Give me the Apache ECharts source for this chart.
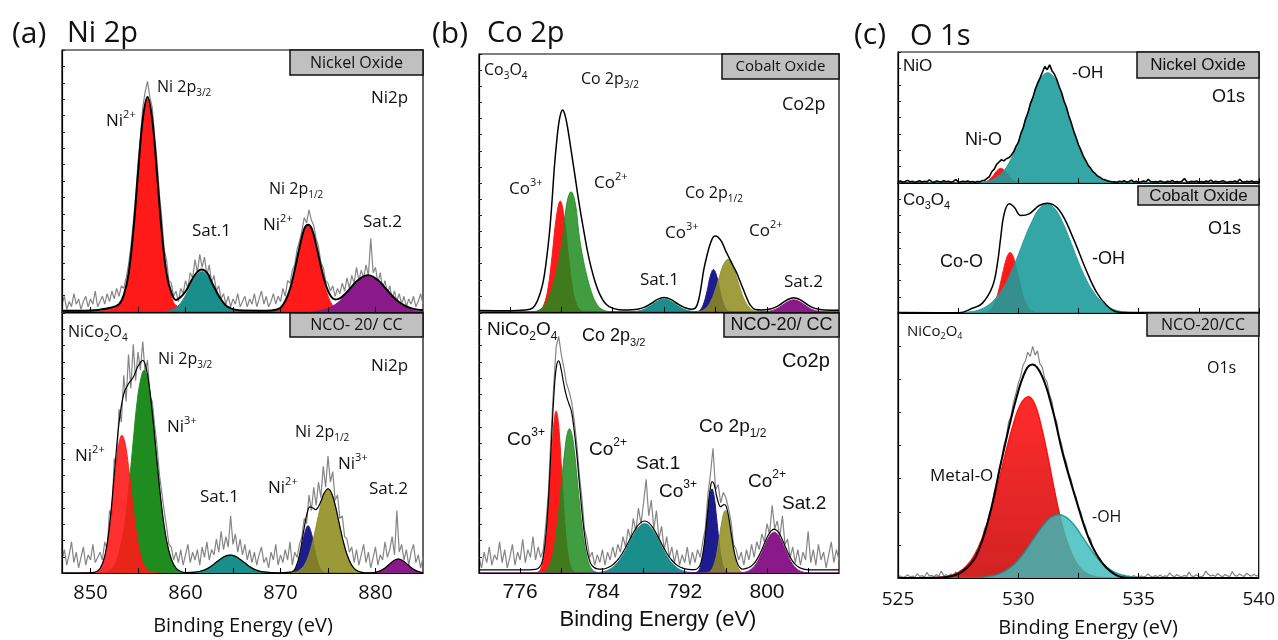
<!DOCTYPE html>
<html><head><meta charset="utf-8">
<script src="https://cdn.jsdelivr.net/npm/echarts@6/dist/echarts.min.js"></script>
<style>html,body{margin:0;padding:0;background:#fff}#c{width:1278px;height:640px}</style>
</head><body><div id="c"></div>
<script>
// ================= DATA (intensities in arbitrary units, 0-100 per panel) =================
// ---- (a) Ni 2p : Nickel Oxide ----
const niTopRawStart = 847, niTopRawStep = 0.25;
const niTopRaw = [3,6,1,4,2,7,3,5,1,4,6,2, 5,3,8,2,4,6,3,7,4,8,5,9, 6,10,9,13,18,25,34,44,57,66,78,84,
 88,82,78,67,58,45,36,24,20,12,11,6, 8,4,9,7,12,9,15,13,20,15,22,17, 21,14,18,11,14,8,10,5,7,3,6,2,
 5,3,7,2,4,6,2,5,3,7,2,5, 8,3,6,2,4,7,3,6,4,9,6,12, 11,16,18,24,27,31,36,34,39,35,33,28,
 25,19,17,12,11,8,10,6,9,7,11,8, 13,9,14,11,17,12,16,13,18,14,28,15, 17,11,15,9,12,7,10,5,8,4,7,3,
 6,2,5,3,6,2,4,7,3];
const niTopNi2a = [[849,0],[851,0.4],[852,1.0],[853,2.5],[853.5,6],[854,13.9],[854.5,30.1],[855,52.4],[855.5,73],[856,81.6],[856.5,73],[857,52.4],[857.5,30.1],[858,13.9],[858.5,6],[859,2.5],[860,1.0],[861,0.4],[863,0]];
const niTopSat1 = [[857.5,0],[858.2,0.35],[858.7,1.0],[859.2,2.2],[859.7,4.5],[860.2,7.7],[860.7,11.3],[861.2,14.3],[861.7,15.4],[862.2,14.3],[862.7,11.3],[863.2,7.7],[863.7,4.5],[864.2,2.2],[864.7,1.0],[865.2,0.35],[866,0]];
const niTopNi2b = [[868,0],[869.4,0.3],[869.9,1.1],[870.4,3.0],[870.9,7.2],[871.4,13.9],[871.9,22.4],[872.4,29.8],[872.9,32.8],[873.4,29.8],[873.9,22.4],[874.4,13.9],[874.9,7.2],[875.4,3.0],[875.9,1.1],[876.4,0.3],[878,0]];
const niTopSat2 = [[847,0],[873,0],[873.6,0.2],[874.4,0.7],[875.2,1.7],[876,3.5],[876.8,6.3],[877.6,9.6],[878.4,12.4],[879.2,13.5],[880,12.4],[880.8,9.6],[881.6,6.3],[882.4,3.5],[883.2,1.7],[884,0.7],[884.8,0.2],[885,0.15]];
const niTopEnv = [[847,0.5],[849,0.5],[851,0.9],[852,1.5],[853,3.0],[853.5,6.5],[854,14.4],[854.5,30.6],[855,52.9],[855.5,73.5],[856,82.1],[856.5,73.5],[857,52.9],[857.5,30.7],[858,14.8],[858.5,7.5],[859,4.6],[859.5,5.7],[860,7.8],[860.5,11.1],[861,14.2],[861.7,16.2],[862.3,14.8],[862.7,11.8],[863.2,8.2],[863.7,5.0],[864.2,2.7],[864.7,1.5],[865.2,0.85],[866,0.55],[868,0.5],[869,0.6],[869.5,0.85],[870,1.6],[870.5,4.2],[871,8.8],[871.5,16.1],[872,24.6],[872.5,31.7],[872.9,33.3],[873.3,31.7],[873.8,24.8],[874.3,16.7],[874.8,10.0],[875.3,6.0],[875.8,4.8],[876.3,5.3],[876.8,6.9],[877.5,9.7],[878.2,12.3],[879.2,14.0],[880.2,12.3],[880.9,9.7],[881.6,6.8],[882.4,4.0],[883.2,2.2],[884,1.2],[885,0.7]];

// ---- (a) Ni 2p : NCO-20/CC ----
const niBotRawStart = 847, niBotRawStep = 0.25;
const niBotRaw = [5,9,3,7,12,4,8,2,6,10,3,7, 5,11,4,6,8,5,12,9,24,22,44,41, 63,58,76,66,84,71,88,74,85,78,89,77,
 82,68,66,57,49,38,31,24,18,11,10,5, 8,4,9,3,7,11,4,8,5,9,3,10, 6,12,5,9,7,13,8,16,9,14,10,22,
 11,15,8,13,7,11,5,9,4,8,3,7, 10,4,6,2,8,5,11,3,7,4,9,5, 12,3,8,6,11,14,21,19,30,24,33,26,
 35,29,41,33,45,35,39,28,30,21,22,14, 13,8,10,4,9,3,7,11,4,8,2,6, 10,3,7,5,12,6,9,14,7,24,8,11,
 5,9,3,8,11,4,7,2,6];
const niBotNi2 = [[849,0],[850.7,0.6],[851.1,2.2],[851.5,6.3],[851.9,14.5],[852.3,27.4],[852.7,41.8],[853.0,49.9],[853.3,53],[853.6,50.6],[854.0,41],[854.4,28.1],[854.8,16.3],[855.2,8],[855.6,3.3],[856.0,1.2],[856.5,0.2],[857.5,0]];
const niBotNi3 = [[849,0],[851.65,0.3],[852.0,1.0],[852.4,2.3],[852.75,4.9],[853.1,9.3],[853.5,16.4],[853.85,26.4],[854.2,39],[854.55,52.8],[854.9,65.6],[855.3,74.7],[855.65,78],[856.0,74.7],[856.4,65.6],[856.75,52.8],[857.1,39],[857.45,26.4],[857.8,16.4],[858.2,9.3],[858.55,4.9],[858.9,2.3],[859.3,1.0],[859.65,0.3],[861,0]];
const niBotSat1 = [[859,0],[860.7,0.15],[861.2,0.4],[861.7,0.8],[862.2,1.5],[862.7,2.6],[863.2,4.0],[863.7,5.4],[864.2,6.5],[864.7,6.9],[865.2,6.5],[865.7,5.4],[866.2,4.0],[866.7,2.6],[867.2,1.5],[867.7,0.8],[868.2,0.4],[868.7,0.15],[870,0]];
const niBotNi2b = [[870,0],[871.15,0.24],[871.5,1.1],[871.85,3.8],[872.2,9.1],[872.55,15.3],[872.9,18.2],[873.25,15.3],[873.6,9.1],[873.95,3.8],[874.3,1.1],[874.65,0.24],[876,0]];
const niBotNi3b = [[869.5,0],[871.5,0.3],[872,1.1],[872.5,3.0],[873,7.1],[873.5,13.8],[874,22.2],[874.5,29.5],[875,32.4],[875.5,29.5],[876,22.2],[876.5,13.8],[877,7.1],[877.5,3.0],[878,1.1],[878.5,0.3],[880,0]];
const niBotSat2 = [[879.4,0],[879.9,0.2],[880.4,0.65],[880.9,1.6],[881.4,3.1],[881.9,4.6],[882.4,5.3],[882.9,4.6],[883.4,3.1],[883.9,1.6],[884.4,0.65],[884.9,0.2],[885,0.15]];
const niBotEnv = [[847,0],[849,0],[850,0.1],[850.5,0.3],[851,1.7],[851.5,6.4],[852,18],[852.5,37.8],[853,57.6],[853.5,68.9],[854,72.8],[854.5,75.3],[855,79.5],[855.5,81.8],[856,76.2],[856.5,61.7],[857,42.8],[857.5,25.2],[858,12.6],[858.5,5.4],[859,1.9],[859.5,0.6],[860,0.2],[861,0.3],[861.7,0.8],[862.2,1.5],[862.7,2.6],[863.2,4.0],[863.7,5.4],[864.2,6.5],[864.7,6.9],[865.2,6.5],[865.7,5.4],[866.2,4.0],[866.7,2.6],[867.2,1.5],[867.7,0.8],[868.2,0.4],[869,0.2],[870,0.1],[871.2,0.4],[871.6,2.1],[872,6.9],[872.4,15.3],[872.8,23],[873.1,25.4],[873.4,25],[873.7,24.4],[874,25.5],[874.3,28],[874.6,30.8],[875,32.4],[875.4,30.5],[875.8,25.4],[876.2,18.7],[876.6,12.2],[877,7.1],[877.4,3.6],[877.8,1.6],[878.2,0.65],[878.7,0.15],[879.4,0.05],[880,0.26],[880.5,0.8],[881,1.9],[881.5,3.5],[882,4.9],[882.4,5.3],[882.8,4.9],[883.3,3.5],[883.8,1.9],[884.3,0.8],[884.8,0.26],[885,0.15]];

// ---- (b) Co 2p : Cobalt Oxide ----
const coTopCo3 = [[776,0],[777.5,0.1],[777.9,0.6],[778.3,2.7],[778.7,9.0],[779.1,21.5],[779.5,36.2],[779.9,43],[780.3,36.2],[780.7,21.5],[781.1,9.0],[781.5,2.7],[781.9,0.6],[782.3,0.1],[783.5,0]];
const coTopCo2 = [[776,0],[777.35,0.2],[777.75,0.6],[778.15,1.6],[778.55,3.7],[778.95,7.5],[779.35,13],[779.75,20],[780.15,29.4],[780.55,42.4],[780.95,46.6],[781.35,42.4],[781.75,29.4],[782.15,20],[782.55,13],[782.95,7.5],[783.35,3.7],[783.75,1.6],[784.15,0.6],[784.55,0.2],[786,0]];
const coTopSat1 = [[785,0],[786.75,0.07],[787.4,0.31],[788.05,1.05],[788.7,2.5],[789.35,4.2],[790,5],[790.65,4.2],[791.3,2.5],[791.95,1.05],[792.6,0.31],[793.25,0.07],[794.5,0]];
const coTopCo3b = [[792,0],[793.24,0.2],[793.55,1.0],[793.86,3.5],[794.18,8.25],[794.49,13.9],[794.8,16.5],[795.11,13.9],[795.43,8.25],[795.74,3.5],[796.05,1.0],[796.36,0.2],[797.5,0]];
const coTopCo2b = [[792.5,0],[793.45,0.27],[793.73,0.6],[794.0,1.3],[794.28,2.4],[794.55,4.3],[794.83,6.9],[795.1,10.2],[795.38,13.8],[795.65,17.2],[795.93,19.5],[796.2,20.4],[796.48,19.5],[796.75,17.2],[797.03,13.8],[797.3,10.2],[797.58,6.9],[797.85,4.3],[798.13,2.4],[798.4,1.3],[798.68,0.6],[798.95,0.27],[800,0]];
const coTopSat2 = [[772,0],[799.0,0],[799.6,0.06],[800.2,0.29],[800.8,0.99],[801.4,2.35],[802.0,3.95],[802.6,4.7],[803.2,3.95],[803.8,2.35],[804.4,0.99],[805.0,0.29],[805.6,0.06],[806.5,0],[807,0]];
const coTopEnv = [[772,0.6],[775,0.5],[776.5,0.8],[777.2,1.5],[777.7,4.5],[778.2,11],[778.55,20],[778.85,30.6],[779.1,43],[779.33,56.3],[779.55,66],[779.75,73],[779.95,77],[780.13,78.3],[780.35,76.5],[780.6,71.8],[780.85,65.5],[781.1,58.9],[781.35,52.3],[781.58,46],[781.9,38],[782.23,30.5],[782.55,23.5],[782.88,17.6],[783.3,11.5],[783.7,7.2],[784.15,4],[784.65,2.1],[785.6,0.9],[786.5,0.8],[787.4,1.1],[788.05,1.8],[788.7,3.2],[789.35,4.9],[790,5.6],[790.65,4.9],[791.3,3.2],[791.95,1.8],[792.6,1.1],[793.0,1.4],[793.4,5.5],[793.85,16.3],[794.2,22.5],[794.5,26.6],[794.8,29.2],[795.04,29.5],[795.3,28.8],[795.6,27.2],[795.95,24],[796.27,21.4],[796.65,18.3],[797.07,15],[797.4,11.7],[797.72,8.5],[798.05,5.3],[798.37,2.7],[798.85,1.0],[799.5,0.8],[800.2,1.1],[800.8,1.8],[801.4,3.2],[802.0,4.8],[802.6,5.5],[803.2,4.8],[803.8,3.2],[804.4,1.8],[805.0,1.1],[805.6,0.8],[807,0.7]];

// ---- (b) Co 2p : NCO-20/CC ----
const coBotRawStart = 772, coBotRawStep = 0.25;
const coBotRaw = [6,2,8,4,10,3,7,5,12,4,9,2, 6,11,3,8,5,13,4,9,6,14,5,10, 6,9,19,31,53,71,87,91,84,79,73,70,
 66,59,50,38,29,17,13,6,8,3,7,4, 9,3,8,5,10,6,11,8,14,10,17,13, 21,16,25,19,27,36,22,28,17,24,13,18,
 9,14,6,10,4,9,3,7,4,10,3,8, 4,9,6,12,17,30,38,48,32,34,27,31, 29,25,20,11,9,5,8,3,9,5,11,6,
 12,9,15,12,19,15,26,17,20,14,22,11, 13,6,10,4,9,3,8,5,16,4,9,3, 11,5,8,2,7,12,4,9,5];
const coBotCo3 = [[776,0],[777.55,0.13],[777.88,0.8],[778.04,1.9],[778.2,3.9],[778.36,7.5],[778.53,13.1],[778.69,21.1],[778.85,31.2],[779.01,42.2],[779.18,52.4],[779.34,59.7],[779.5,62.3],[779.66,59.7],[779.83,52.4],[779.99,42.2],[780.15,31.2],[780.31,21.1],[780.48,13.1],[780.64,7.5],[780.8,3.9],[780.96,1.9],[781.13,0.8],[781.45,0.13],[783,0]];
const coBotCo2 = [[776,0],[777.95,0.11],[778.43,0.73],[778.66,1.66],[778.9,3.5],[779.14,6.7],[779.38,11.7],[779.61,18.8],[779.85,27.75],[780.09,37.6],[780.33,46.7],[780.56,53.2],[780.8,55.5],[781.04,53.2],[781.28,46.7],[781.51,37.6],[781.75,27.75],[781.99,18.8],[782.23,11.7],[782.46,6.7],[782.7,3.5],[782.94,1.66],[783.18,0.73],[783.65,0.11],[785,0]];
const coBotSat1 = [[783,0],[783.73,0.25],[784.16,0.57],[784.6,1.2],[785.04,2.3],[785.48,4.0],[785.91,6.4],[786.35,9.5],[786.79,12.9],[787.23,16],[787.66,18.2],[788.1,19],[788.54,18.2],[788.98,16],[789.41,12.9],[789.85,9.5],[790.29,6.4],[790.73,4.0],[791.16,2.3],[791.6,1.2],[792.04,0.57],[792.48,0.25],[793.5,0]];
const coBotCo3b = [[792,0],[792.93,0.06],[793.21,0.42],[793.36,0.97],[793.5,2.0],[793.64,3.9],[793.79,6.8],[793.93,11],[794.08,16.2],[794.22,21.9],[794.36,27.2],[794.51,31],[794.65,32.4],[794.79,31],[794.94,27.2],[795.08,21.9],[795.23,16.2],[795.37,11],[795.51,6.8],[795.66,3.9],[795.8,2.0],[795.94,0.97],[796.09,0.42],[796.38,0.06],[797.5,0]];
const coBotCo2b = [[793.5,0],[794.0,0.05],[794.33,0.31],[794.49,0.72],[794.65,1.5],[794.81,2.9],[794.98,5.0],[795.14,8.1],[795.3,12],[795.46,16.2],[795.63,20.2],[795.79,23],[795.95,24],[796.11,23],[796.28,20.2],[796.44,16.2],[796.6,12],[796.76,8.1],[796.93,5.0],[797.09,2.9],[797.25,1.5],[797.41,0.72],[797.58,0.31],[797.9,0.05],[799,0]];
const coBotSat2 = [[772,0],[797.1,0.03],[797.7,0.2],[798.0,0.47],[798.3,0.98],[798.6,1.9],[798.9,3.3],[799.2,5.3],[799.5,7.85],[799.8,10.6],[800.1,13.2],[800.4,15],[800.7,15.7],[801.0,15],[801.3,13.2],[801.6,10.6],[801.9,7.85],[802.2,5.3],[802.5,3.3],[802.8,1.9],[803.1,0.98],[803.4,0.47],[803.7,0.2],[804.3,0.03],[805,0],[807,0]];
const coBotEnv = [[772,1.2],[776,1.2],[777.5,1.4],[778,2.9],[778.25,6.4],[778.5,14.3],[778.75,28.1],[779.0,47.2],[779.25,66.3],[779.5,78.7],[779.75,81.6],[780.0,78],[780.25,72.5],[780.5,68],[780.75,65],[781.0,62],[781.25,55],[781.5,46],[781.75,35],[782.0,24],[782.25,15],[782.5,8.5],[782.75,4.8],[783.0,2.8],[783.5,1.6],[784,1.5],[784.6,2.2],[785.04,3.3],[785.48,5],[785.91,7.4],[786.35,10.5],[786.79,13.9],[787.23,17],[787.66,19.2],[788.1,20],[788.54,19.2],[788.98,17],[789.41,13.9],[789.85,10.5],[790.29,7.4],[790.73,5],[791.16,3.3],[791.6,2.2],[792.04,1.6],[792.6,1.3],[793.0,1.3],[793.36,2.2],[793.5,3.2],[793.64,5.1],[793.79,8.0],[793.93,12.2],[794.08,17.4],[794.22,23.1],[794.36,28.8],[794.51,33],[794.65,35.1],[794.79,34.8],[794.94,32.9],[795.08,30],[795.23,27.6],[795.37,26],[795.51,25.5],[795.66,26],[795.8,26.3],[795.95,26.2],[796.11,24.6],[796.28,21.5],[796.44,17.4],[796.6,13.2],[796.76,9.3],[796.93,6.2],[797.09,4.1],[797.25,2.7],[797.41,1.9],[797.6,1.5],[798,1.8],[798.3,2.2],[798.6,3.1],[798.9,4.5],[799.2,6.5],[799.5,9],[799.8,11.8],[800.1,14.4],[800.4,16.2],[800.7,16.9],[801.0,16.2],[801.3,14.4],[801.6,11.8],[801.9,9],[802.2,6.5],[802.5,4.5],[802.8,3.1],[803.1,2.2],[803.4,1.7],[803.7,1.4],[804.3,1.2],[807,1.2]];

// ---- (c) O 1s : Nickel Oxide ----
const oTopRawStart = 525, oTopRawStep = 0.1;
const oTopRaw = [0.8,1.5,0.6,1.2,2.0,0.9,1.4,0.5,1.1,1.8,0.7,1.3,0.9,2.4,1.0,0.6,1.5,1.1,0.8,1.7,0.9,1.3,0.5,1.2,2.6,1.0,0.7,1.4,0.9,1.6,0.8,1.2,0.6,
 1.2,0.9,1.8,2.1,3.5,4.9,8.8,10.6,14.2,16.0,17.8,16.9,18.5,19.2,21.0,23.6,27.9,31.0,37.5,42.0,
 48.9,53.5,60.6,65.0,71.4,76.2,80.1,84.5,88.9,86.5,90.2,85.6,83.0,78.8,73.5,68.9,62.4,57.8,51.2,45.9,
 39.6,34.8,29.2,25.1,20.4,17.3,13.6,11.4,8.6,7.1,5.2,4.3,2.9,2.5,1.6,1.3,0.8,
 1.0,0.6,1.4,0.9,1.7,0.7,1.2,2.1,0.8,1.3,0.6,1.0,1.5,0.9,2.8,1.1,0.7,1.2,0.8,1.6,1.0,0.6,1.3,0.9,1.9,0.7,1.2,0.8,1.4,3.4,
 1.0,0.7,1.3,0.9,1.6,0.8,1.1,0.6,1.5,1.0,2.2,0.8,1.3,0.7,1.1,1.7,0.9,0.6,1.2,1.0,1.5,0.8,2.9,1.1,0.7,1.3,0.9,1.6,0.8,1.2,1.0];
const oTopNiO = [[527,0],[528.46,0.15],[528.62,0.7],[528.78,2.35],[528.95,5.6],[529.11,9.4],[529.27,11.2],[529.43,9.4],[529.6,5.6],[529.76,2.35],[529.92,0.7],[530.08,0.15],[531,0]];
const oTopOH = [[526,0],[528.15,0.17],[528.66,1.1],[528.91,2.5],[529.17,5.3],[529.43,10.1],[529.68,17.7],[529.94,28.5],[530.2,42.1],[530.45,57],[530.71,70.8],[530.96,80.7],[531.22,84.2],[531.48,80.7],[531.73,70.8],[531.99,57],[532.24,42.1],[532.5,28.5],[532.76,17.7],[533.01,10.1],[533.27,5.3],[533.53,2.5],[533.78,1.1],[534.3,0.17],[536,0]];

// ---- (c) O 1s : Cobalt Oxide ----
const oMidCoO = [[527,0],[528.46,0.1],[528.66,0.6],[528.76,1.4],[528.86,2.9],[528.96,5.6],[529.06,9.8],[529.16,15.8],[529.26,23.25],[529.36,31.5],[529.46,39.1],[529.56,44.5],[529.66,46.5],[529.76,44.5],[529.86,39.1],[529.96,31.5],[530.06,23.25],[530.16,15.8],[530.26,9.8],[530.36,5.6],[530.46,2.9],[530.56,1.4],[530.66,0.6],[530.86,0.1],[532,0]];
const oMidOH = [[526,0],[527.44,0.17],[528.07,1.1],[528.38,2.5],[528.69,5.25],[529.0,10.1],[529.32,17.6],[529.63,28.5],[529.94,42],[530.25,56.9],[530.57,70.6],[530.88,80.5],[531.19,84],[531.5,80.5],[531.82,70.6],[532.13,56.9],[532.44,42],[532.75,28.5],[533.07,17.6],[533.38,10.1],[533.69,5.25],[534.0,2.5],[534.32,1.1],[534.94,0.17],[536,0]];
const oMidEnv = [[525,0.3],[527.53,0.2],[528.09,3.6],[528.5,7.4],[528.92,20.2],[529.13,38],[529.27,58.4],[529.41,76.3],[529.62,84],[529.83,81.4],[530.1,75],[530.45,76.3],[530.87,82.7],[531.22,84.5],[531.71,78.9],[532.26,58.4],[532.82,32.9],[533.24,16.3],[533.66,6.1],[534.07,1.0],[534.6,0.3],[540,0.3]];

// ---- (c) O 1s : NCO-20/CC ----
const oBotRawStart = 525, oBotRawStep = 0.1;
const oBotRaw = [0.3,0.8,0.2,0.5,1.2,0.4,0.7,0.3,1.6,0.6,0.9,0.4,2.1,0.8,1.0,0.5,1.3,0.7,2.6,0.9,1.2,
 0.8,1.5,1.0,2.3,1.7,2.9,2.4,3.8,4.2,5.9, 6.1,8.4,9.1,12.9,14.6,18.7,20.2,24.4,27.1,32.3,
 35.8,41.2,44.6,49.8,53.1,58.9,61.0,66.2,69.5,73.4, 76.1,80.3,82.0,85.2,83.6,87.4,84.1,85.7,80.8,79.6,
 75.4,73.9,69.2,66.8,61.5,58.9,53.6,50.7,46.3,43.8, 39.5,37.1,33.0,30.6,26.7,24.9,21.2,19.4,15.8,14.9,
 11.6,10.2,8.1,7.4,5.3,5.0,3.4,3.1,2.0,1.8, 1.1,0.9,0.6,1.0,0.4,
 0.7,0.3,0.9,0.5,0.2,0.8,0.4,0.6,1.5,0.7,0.3,0.9,0.5,1.1,0.4,0.8,0.6,1.9,0.9,0.5,1.3,0.7,0.4,1.0,0.6,2.2,0.8,0.5,1.2,0.7,
 0.4,0.9,2.6,1.4,0.8,1.1,0.6,1.7,0.9,0.5,1.3,0.8,0.6,2.4,1.0,0.7,1.5,0.9,0.6,1.8,1.1,0.7,1.4,0.8,1.0];
const oBotMO = [[526,0],[526.53,0.14],[527.18,0.9],[527.5,2.05],[527.83,4.3],[528.15,8.2],[528.48,14.4],[528.8,23.2],[529.13,34.2],[529.45,46.3],[529.78,57.5],[530.1,65.5],[530.43,68.4],[530.69,65.5],[530.95,57.5],[531.22,46.3],[531.48,34.2],[531.74,23.2],[532.0,14.4],[532.27,8.2],[532.53,4.3],[532.79,2.05],[533.05,0.9],[533.58,0.14],[535,0]];
const oBotOH = [[525,0],[527.93,0.05],[528.56,0.31],[528.87,0.72],[529.18,1.5],[529.49,2.9],[529.81,5.0],[530.12,8.1],[530.43,12],[530.74,16.2],[531.06,20.2],[531.37,23],[531.68,24],[531.99,23],[532.31,20.2],[532.62,16.2],[532.93,12],[533.24,8.1],[533.56,5.0],[533.87,2.9],[534.18,1.5],[534.49,0.72],[534.81,0.31],[535.43,0.05],[540,0]];
const oBotEnv = [[525,0],[526.5,0.1],[527.11,0.5],[527.67,2.4],[528.23,8],[528.79,23.1],[529.34,45.8],[529.9,67.2],[530.32,78.5],[530.6,80.6],[531.0,76],[531.43,63.4],[531.85,47],[532.41,29.4],[532.96,14.3],[533.51,5.5],[534.07,1.1],[534.63,0],[540,0]];

// ---- axis ticks / labels ----
const niRange = [847, 885], coRange = [772, 807], oRange = [525, 540];
const niTicks = [850,855,860,865,870,875,880], niLabels = [850,860,870,880];
const coTopTicks = [775,780,785,790,795,800,805];
const coTicks = [776,780,784,788,792,796,800,804], coLabels = [776,784,792,800];
const oTicks = [525,527.5,530,532.5,535,537.5,540], oLabels = [525,530,535,540];

// ================= CHART =================
const OS = "'Open Sans', sans-serif";
const AR = "'Liberation Sans', Arial, sans-serif";
const RED = '#ff1a1a', GREEN = '#1e8c1e', TEAL = '#1a8e8a', PURPLE = '#8a1a8a', BLUE = '#1c1c8e', OLIVE = '#8e8c1c';
const OTEAL = '#1f9c9c';

const grids = [
  {left:62, top:50, width:361, height:262},
  {left:62, top:313, width:361, height:260},
  {left:479, top:54, width:360, height:258},
  {left:479, top:313, width:360, height:260},
  {left:898, top:52, width:361, height:131},
  {left:898, top:183, width:361, height:130},
  {left:898, top:313, width:361, height:265}
].map(g => Object.assign(g, {show:true, borderColor:'#000', borderWidth:1.2, backgroundColor:'rgba(0,0,0,0)'}));

function xAx(gi, range, ticks, labels, fam, fs, margin) {
  return {type:'value', gridIndex:gi, min:range[0], max:range[1], z:50,
    axisLine:{show:true, lineStyle:{color:'#000', width:1.2}},
    axisTick:{show:true, inside:true, length:5, lineStyle:{color:'#000', width:1}, customValues:ticks},
    axisLabel:{show:!!labels, customValues:labels || [], fontFamily:fam, fontSize:fs, color:'#111', margin:margin},
    splitLine:{show:false}};
}
function yAx(gi, interval) {
  return {type:'value', gridIndex:gi, min:0, max:100, interval:interval, z:50,
    axisLine:{show:true, lineStyle:{color:'#000', width:1.2}},
    axisTick:{show:true, inside:true, length:3, lineStyle:{color:'#222', width:1}},
    axisLabel:{show:false}, splitLine:{show:false}};
}
const xAxes = [
  xAx(0, niRange, niTicks, null),
  xAx(1, niRange, niTicks, niLabels, OS, 20, 10),
  xAx(2, coRange, coTopTicks, null),
  xAx(3, coRange, coTicks, coLabels, AR, 21, 9),
  xAx(4, oRange, oTicks, null),
  xAx(5, oRange, oTicks, null),
  xAx(6, oRange, oTicks, oLabels, OS, 19, 12)
];
const yAxes = [yAx(0,6.25), yAx(1,6.25), yAx(2,6.25), yAx(3,6.25), yAx(4,12.5), yAx(5,12.5), yAx(6,12.5)];

const series = [];
let zc = 2;
function addRaw(gi, vals, start, step, color, width) {
  series.push({type:'line', xAxisIndex:gi, yAxisIndex:gi, silent:true, z:zc++,
    data: vals.map((v,i) => [+(start + i*step).toFixed(3), v]),
    showSymbol:false, symbol:'none', smooth:false, lineStyle:{color:color, width:width}});
}
function addPeak(gi, data, fill, opacity, lineColor, lineWidth) {
  series.push({type:'line', xAxisIndex:gi, yAxisIndex:gi, silent:true, z:zc++, data:data,
    showSymbol:false, symbol:'none', smooth:0.4,
    lineStyle:{color: lineColor || fill, width: lineWidth == null ? 1 : lineWidth, opacity: opacity == null ? 1 : opacity},
    areaStyle:{color: fill, opacity: opacity == null ? 1 : opacity}});
}
function addEnv(gi, data, width) {
  series.push({type:'line', xAxisIndex:gi, yAxisIndex:gi, silent:true, z:zc++, data:data,
    showSymbol:false, symbol:'none', smooth:0.4, lineStyle:{color:'#000', width:width}});
}

// (a) top
addRaw(0, niTopRaw, niTopRawStart, niTopRawStep, '#858585', 1.2);
addPeak(0, niTopNi2a, RED); addPeak(0, niTopSat1, TEAL); addPeak(0, niTopNi2b, RED); addPeak(0, niTopSat2, PURPLE);
addEnv(0, niTopEnv, 2);
// (a) bottom
addRaw(1, niBotRaw, niBotRawStart, niBotRawStep, '#858585', 1.2);
addPeak(1, niBotNi3, GREEN); addPeak(1, niBotNi2, RED, 0.9); addPeak(1, niBotSat1, TEAL);
addPeak(1, niBotNi2b, BLUE); addPeak(1, niBotNi3b, OLIVE, 0.88); addPeak(1, niBotSat2, PURPLE);
addEnv(1, niBotEnv, 1.2);
// (b) top
addPeak(2, coTopCo3, RED); addPeak(2, coTopCo2, GREEN, 0.85); addPeak(2, coTopSat1, TEAL);
addPeak(2, coTopCo3b, BLUE); addPeak(2, coTopCo2b, OLIVE, 0.85); addPeak(2, coTopSat2, PURPLE);
addEnv(2, coTopEnv, 1.5);
// (b) bottom
addRaw(3, coBotRaw, coBotRawStart, coBotRawStep, '#858585', 1.2);
addPeak(3, coBotCo3, RED); addPeak(3, coBotCo2, GREEN, 0.85); addPeak(3, coBotSat1, TEAL);
addPeak(3, coBotCo3b, BLUE); addPeak(3, coBotCo2b, OLIVE, 0.85); addPeak(3, coBotSat2, PURPLE);
addEnv(3, coBotEnv, 1.2);
// (c) top
addPeak(4, oTopNiO, RED); addPeak(4, oTopOH, OTEAL, 0.9);
addRaw(4, oTopRaw, oTopRawStart, oTopRawStep, '#000', 1.6);
// (c) middle
addPeak(5, oMidCoO, RED); addPeak(5, oMidOH, OTEAL, 0.9);
addEnv(5, oMidEnv, 1.5);
// (c) bottom
addRaw(6, oBotRaw, oBotRawStart, oBotRawStep, '#858585', 1.2);
addPeak(6, oBotMO, {type:'linear', x:0, y:0, x2:0, y2:1, colorStops:[{offset:0, color:'#ff2b2b'}, {offset:1, color:'#d22222'}]}, 1, '#ff1010', 1.5);
addPeak(6, oBotOH, '#3bbcbc', 0.82, '#178c8c', 1.5);
addEnv(6, oBotEnv, 2);

// ---------- text ----------
const mctx = document.createElement('canvas').getContext('2d');
function tw(t, fs, fam) { mctx.font = fs + 'px ' + fam; return mctx.measureText(t).width; }
function txt(x, y, text, fs, fam, align) {
  return {type:'text', z:101, x:x, y:y, silent:true,
    style:{text:text, fontSize:fs, fontFamily:fam, fill:'#111',
      textAlign:align || 'left', textVerticalAlign:'middle', align:align || 'left', verticalAlign:'middle'}};
}
function rich(x, y, segs, fs, fam) {
  const out = []; let cx = x;
  segs.forEach(([t, m]) => {
    const s = m === 'n' ? fs : Math.round(fs * 0.62);
    const dy = m === 'sup' ? -fs * 0.38 : (m === 'sub' ? fs * 0.36 : 0);
    out.push(txt(cx, y + dy, t, s, fam));
    cx += tw(t, s, fam);
  });
  return out;
}
function box(x, y, w, h, text, fs, fam) {
  return [{type:'rect', z:100, silent:true, shape:{x:x, y:y, width:w, height:h}, style:{fill:'#c0c0c0', stroke:'#111', lineWidth:1.5}},
          txt(x + w/2, y + h/2 + 0.5, text, fs, fam, 'center')];
}
const N = 'n', SUP = 'sup', SUB = 'sub';
let G = [];
// titles
G.push(...rich(12, 34, [['(a)',N]], 30, OS), ...rich(67, 34, [['Ni 2p',N]], 29, OS));
G.push(...rich(432, 34, [['(b)',N]], 30, OS), ...rich(487, 34, [['Co 2p',N]], 29, OS));
G.push(...rich(854, 35, [['(c)',N]], 30, OS), ...rich(910, 37, [['O 1s',N]], 29, OS));
// (a) top
G.push(...box(290, 50, 133, 25, 'Nickel Oxide', 16, OS));
G.push(...rich(157, 87, [['Ni 2p',N],['3/2',SUB]], 16, OS));
G.push(...rich(106, 121.5, [['Ni',N],['2+',SUP]], 17, OS));
G.push(...rich(371, 98, [['Ni2p',N]], 17, OS));
G.push(...rich(192, 231, [['Sat.1',N]], 17, OS));
G.push(...rich(269, 189, [['Ni 2p',N],['1/2',SUB]], 16, OS));
G.push(...rich(263, 225.5, [['Ni',N],['2+',SUP]], 17, OS));
G.push(...rich(363, 222, [['Sat.2',N]], 17, OS));
// (a) bottom
G.push(...box(290, 313, 133, 24, 'NCO- 20/ CC', 16, OS));
G.push(...rich(68, 332, [['NiCo',N],['2',SUB],['O',N],['4',SUB]], 16, OS));
G.push(...rich(158, 359, [['Ni 2p',N],['3/2',SUB]], 16, OS));
G.push(...rich(371, 366, [['Ni2p',N]], 17, OS));
G.push(...rich(167, 427.5, [['Ni',N],['3+',SUP]], 17, OS));
G.push(...rich(75, 456, [['Ni',N],['2+',SUP]], 17, OS));
G.push(...rich(200, 497.5, [['Sat.1',N]], 17, OS));
G.push(...rich(295, 432.5, [['Ni 2p',N],['1/2',SUB]], 16, OS));
G.push(...rich(268, 488, [['Ni',N],['2+',SUP]], 17, OS));
G.push(...rich(338, 464, [['Ni',N],['3+',SUP]], 17, OS));
G.push(...rich(369, 489, [['Sat.2',N]], 17, OS));
G.push(txt(243, 626, 'Binding Energy (eV)', 20, OS, 'center'));
// (b) top
G.push(...rich(484, 70, [['Co',N],['3',SUB],['O',N],['4',SUB]], 16, OS));
G.push(...rich(581, 79.5, [['Co 2p',N],['3/2',SUB]], 16, OS));
G.push(...box(722, 54, 117, 25, 'Cobalt Oxide', 15, OS));
G.push(...rich(782, 104.5, [['Co2p',N]], 18, OS));
G.push(...rich(509, 189, [['Co',N],['3+',SUP]], 17, OS));
G.push(...rich(594, 183, [['Co',N],['2+',SUP]], 17, OS));
G.push(...rich(685, 193, [['Co 2p',N],['1/2',SUB]], 16, OS));
G.push(...rich(665, 233, [['Co',N],['3+',SUP]], 17, OS));
G.push(...rich(749, 231, [['Co',N],['2+',SUP]], 17, OS));
G.push(...rich(640, 280, [['Sat.1',N]], 17, OS));
G.push(...rich(784, 282, [['Sat.2',N]], 17, OS));
// (b) bottom
G.push(...box(724, 313, 115, 24, 'NCO-20/ CC', 18, AR));
G.push(...rich(487, 330, [['NiCo',N],['2',SUB],['O',N],['4',SUB]], 19, AR));
G.push(...rich(582, 336, [['Co 2p',N],['3/2',SUB]], 18, AR));
G.push(...rich(782, 361, [['Co2p',N]], 20, AR));
G.push(...rich(507, 440, [['Co',N],['3+',SUP]], 19, AR));
G.push(...rich(589, 450, [['Co',N],['2+',SUP]], 19, AR));
G.push(...rich(636, 463.5, [['Sat.1',N]], 19, AR));
G.push(...rich(699, 426.5, [['Co 2p',N],['1/2',SUB]], 19, AR));
G.push(...rich(659, 491.5, [['Co',N],['3+',SUP]], 19, AR));
G.push(...rich(748, 482, [['Co',N],['2+',SUP]], 19, AR));
G.push(...rich(782, 503.5, [['Sat.2',N]], 19, AR));
G.push(txt(658, 620, 'Binding Energy (eV)', 22, AR, 'center'));
// (c) top + middle
G.push(...box(1137, 52, 122, 26, 'Nickel Oxide', 17, AR));
G.push(...rich(903, 66, [['NiO',N]], 17, AR));
G.push(...rich(1072, 73, [['-OH',N]], 17, AR));
G.push(...rich(1212, 97, [['O1s',N]], 18, AR));
G.push(...rich(965, 140, [['Ni-O',N]], 18, AR));
G.push(...box(1138, 186, 121, 19, 'Cobalt Oxide', 17, AR));
G.push(...rich(903, 200, [['Co',N],['3',SUB],['O',N],['4',SUB]], 17, AR));
G.push(...rich(1208, 229, [['O1s',N]], 18, AR));
G.push(...rich(940, 262, [['Co-O',N]], 18, AR));
G.push(...rich(1092, 259.5, [['-OH',N]], 18, AR));
// (c) bottom
G.push(...box(1147, 313, 112, 23, 'NCO-20/CC', 16, OS));
G.push(...rich(907, 331.5, [['NiCo',N],['2',SUB],['O',N],['4',SUB]], 15, OS));
G.push(...rich(1207, 368, [['O1s',N]], 16, OS));
G.push(...rich(930, 476, [['Metal-O',N]], 17, OS));
G.push(...rich(1092, 517, [['-OH',N]], 16, OS));
G.push(txt(1088, 628, 'Binding Energy (eV)', 20, OS, 'center'));

const chart = echarts.init(document.getElementById('c'), null, {renderer:'canvas'});
chart.setOption({
  animation:false,
  backgroundColor:'#fff',
  grid: grids,
  xAxis: xAxes,
  yAxis: yAxes,
  series: series,
  graphic: {elements: G}
});
</script>
</body></html>
